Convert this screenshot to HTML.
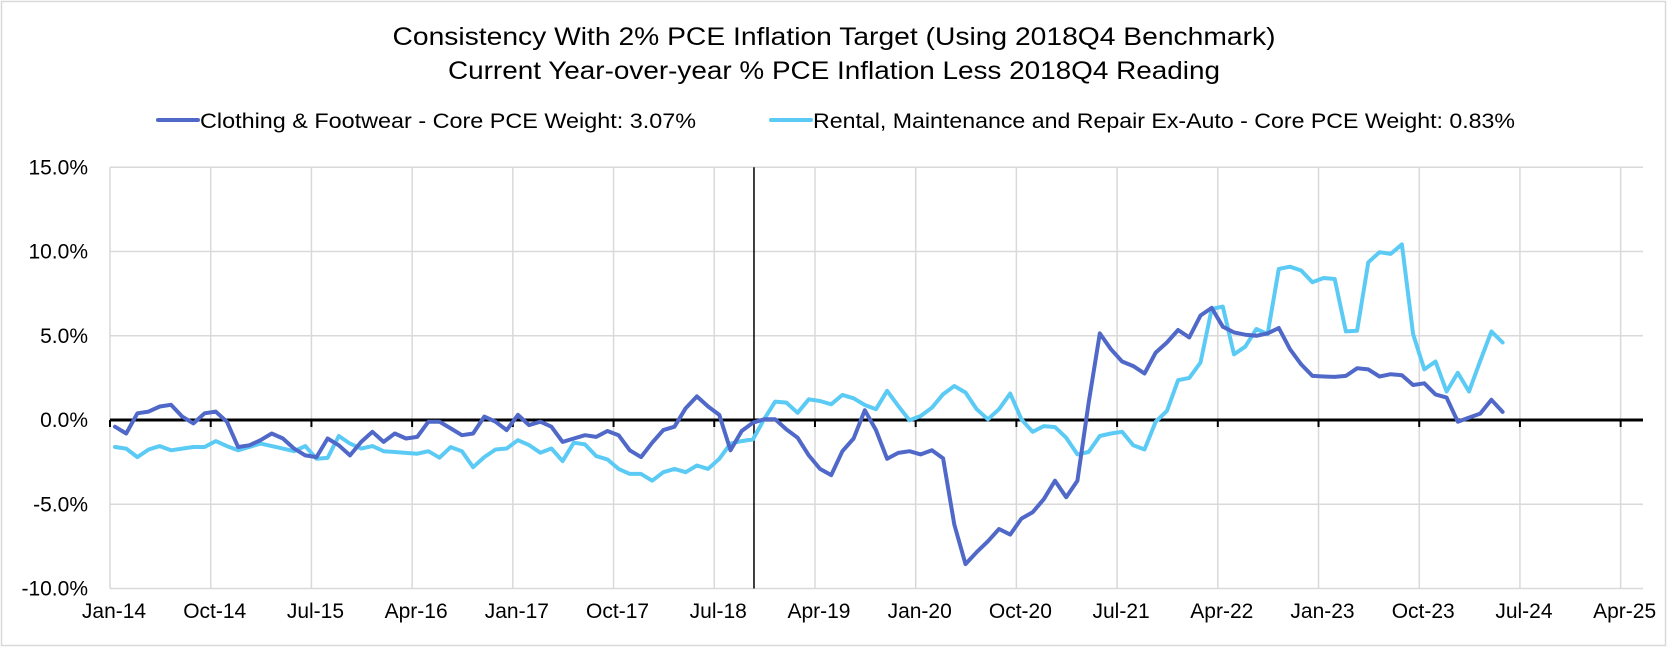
<!DOCTYPE html>
<html><head><meta charset="utf-8"><style>
html,body{margin:0;padding:0;background:#fff;}
svg{display:block;font-family:"Liberation Sans",sans-serif;}
</style></head><body>
<svg id="chart" width="1668" height="648" viewBox="0 0 1668 648" xmlns="http://www.w3.org/2000/svg">
<rect x="1.5" y="1.5" width="1664" height="644" fill="#fff" stroke="#d9d9d9" stroke-width="1.5"/>
<text x="834" y="45" text-anchor="middle" font-size="25" textLength="883" lengthAdjust="spacingAndGlyphs" fill="#000">Consistency With 2% PCE Inflation Target (Using 2018Q4 Benchmark)</text>
<text x="834" y="79" text-anchor="middle" font-size="25" textLength="772" lengthAdjust="spacingAndGlyphs" fill="#000">Current Year-over-year % PCE Inflation Less 2018Q4 Reading</text>
<g>
<g>
<line x1="158" y1="120" x2="198" y2="120" stroke="#5068c8" stroke-width="4" stroke-linecap="round"/>
<text x="200" y="128" font-size="21" textLength="496" lengthAdjust="spacingAndGlyphs">Clothing &amp; Footwear - Core PCE Weight: 3.07%</text>
</g>
<g>
<line x1="771" y1="120" x2="811" y2="120" stroke="#5bcbf5" stroke-width="4" stroke-linecap="round"/>
<text x="813" y="128" font-size="21" textLength="702" lengthAdjust="spacingAndGlyphs">Rental, Maintenance and Repair Ex-Auto - Core PCE Weight: 0.83%</text>
</g>
</g>
<g id="grid"></g>
<g id="axes"></g>
<g id="series"></g>
</svg>
<script>
const xLabels = ["Jan-14","Oct-14","Jul-15","Apr-16","Jan-17","Oct-17","Jul-18","Apr-19","Jan-20","Oct-20","Jul-21","Apr-22","Jan-23","Oct-23","Jul-24","Apr-25"];
const yTicks = [15,10,5,0,-5,-10];
const clothing = [-0.4,-0.8,0.4,0.5,0.8,0.9,0.2,-0.2,0.4,0.5,-0.1,-1.6,-1.5,-1.2,-0.8,-1.1,-1.7,-2.1,-2.2,-1.1,-1.5,-2.1,-1.3,-0.7,-1.3,-0.8,-1.1,-1.0,
-0.1,-0.1,-0.5,-0.9,-0.8,0.2,-0.1,-0.6,0.3,-0.3,-0.1,-0.4,-1.3,-1.1,-0.9,-1.0,-0.65,-0.9,-1.8,-2.2,-1.35,-0.6,-0.4,0.7,1.4,0.8,0.3,-1.8,-0.65,
-0.16,0.04,0.04,-0.56,-1.05,-2.1,-2.9,-3.27,-1.85,-1.1,0.58,-0.6,-2.3,-1.95,-1.85,-2.04,-1.8,-2.28,
-6.2,-8.55,-7.84,-7.2,-6.47,-6.8,-5.85,-5.48,-4.7,-3.6,-4.58,-3.6,
1.0,
5.14,4.2,3.47,3.2,2.76,4.0,4.6,5.34,4.9,6.2,6.65,5.54,5.2,5.06,5.0,5.14,5.46,4.2,3.3,
2.62,2.58,2.56,2.62,3.07,3.0,2.58,2.72,2.66,2.08,2.18,1.52,1.33,-0.1,0.14,0.38,1.2,0.48];
const rental = [-1.6,-1.7,-2.2,-1.75,-1.55,-1.8,-1.7,-1.6,-1.6,-1.25,-1.55,-1.8,-1.6,-1.4,-1.55,-1.7,-1.85,-1.55,-2.3,-2.25,-0.95,-1.4,-1.7,-1.55,-1.85,-1.9,-1.95,-2.0,
-1.85,-2.24,-1.61,-1.85,-2.8,-2.2,-1.75,-1.69,-1.2,-1.49,-1.94,-1.69,-2.44,-1.35,-1.45,-2.14,-2.34,
-2.9,-3.2,-3.2,-3.6,-3.1,-2.9,-3.1,-2.7,-2.9,-2.3,-1.4,-1.25,-1.15,
0.04,1.09,1.03,0.43,1.23,1.13,0.93,1.49,1.29,0.89,0.64,1.73,0.83,-0.02,0.24,0.73,1.53,2.02,1.63,0.64,0.04,0.64,1.57,0.04,-0.7,-0.36,-0.42,-1.05,
-2.04,-1.9,-0.95,-0.8,-0.7,-1.5,-1.75,-0.1,0.54,2.36,2.5,3.41,6.59,6.73,3.9,4.35,5.4,5.1,8.97,9.1,
8.87,8.17,8.43,8.37,5.26,5.3,9.36,9.96,9.86,10.42,5.1,3.0,3.47,1.69,2.8,1.69,3.5,5.26,4.6];
const benchmarkMonth = 57.55;

const NS = "http://www.w3.org/2000/svg";
const X0 = 110, PXM = 11.19, Y0 = 420, PXP = 16.85, XEND = 1643;
const xScale = m => X0 + m * PXM;
const xData = i => xScale(i + 0.45);
const yScale = v => Y0 - v * PXP;
function mk(tag, attrs, parent){const e=document.createElementNS(NS,tag);for(const k in attrs)e.setAttribute(k,attrs[k]);parent.appendChild(e);return e;}
const grid=document.getElementById('grid'), axes=document.getElementById('axes'), series=document.getElementById('series');
const yTop = yScale(15), yBot = yScale(-10);
yTicks.forEach(v=>{
  if(v!==0){const l=mk('line',{x1:X0,x2:XEND,y1:yScale(v),y2:yScale(v),stroke:'#d9d9d9','stroke-width':1.5},grid);
  
  }
  const t=mk('text',{x:88,y:yScale(v)+7,'text-anchor':'end','font-size':21,fill:'#000'},axes);
  t.textContent=v.toFixed(1)+'%';
  
  
});
xLabels.forEach((lab,i)=>{
  const x=xScale(i*9);
  const l=mk('line',{x1:x,x2:x,y1:yTop,y2:yBot,stroke:'#d9d9d9','stroke-width':1.5},grid);
  
  
  const tk=mk('line',{x1:x,x2:x,y1:Y0,y2:Y0+7,stroke:'#000','stroke-width':2},axes);
  
  
  const t=mk('text',{x:x+4,y:618,'text-anchor':'middle','font-size':21,fill:'#000'},axes);
  t.textContent=lab;
  
  
});
const ax=mk('line',{x1:X0,x2:XEND,y1:Y0,y2:Y0,stroke:'#000','stroke-width':3},axes);


const bm=mk('line',{x1:xScale(benchmarkMonth),x2:xScale(benchmarkMonth),y1:yTop,y2:yBot,stroke:'#000','stroke-width':1.5},axes);


function drawSeries(arr,color,name){
  const d=arr.map((v,i)=>(i?'L':'M')+xData(i).toFixed(1)+','+yScale(v).toFixed(1)).join(' ');
  const p=mk('path',{d:d,fill:'none',stroke:color,'stroke-width':4,'stroke-linejoin':'round','stroke-linecap':'round'},series);
  
  
}
drawSeries(rental,'#5bcbf5','rental-maintenance-repair-line');
drawSeries(clothing,'#5068c8','clothing-footwear-line');
</script>
</body></html>
